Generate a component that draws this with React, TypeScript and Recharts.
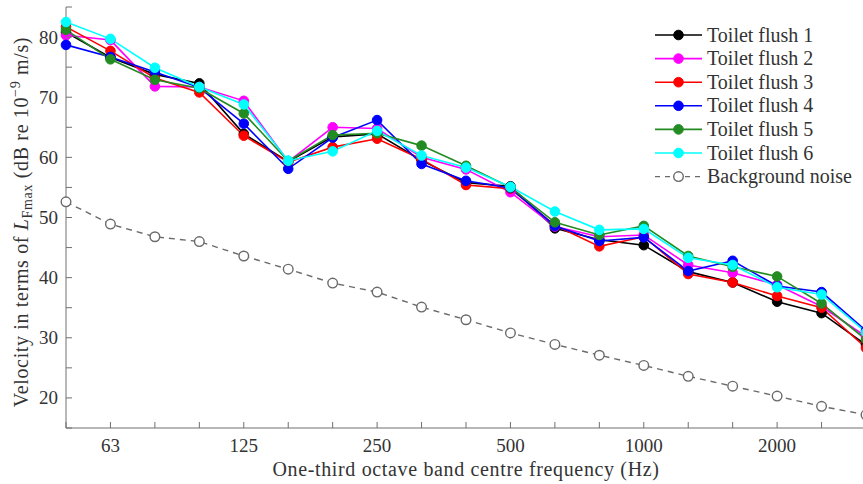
import React from 'react';
import { LineChart, Line, XAxis, YAxis, Legend } from 'recharts';

const freqs = ['50', '63', '80', '100', '125', '160', '200', '250', '315', '400', '500', '630', '800', '1000', '1250', '1600', '2000', '2500', '3150'];
const labelledFreqs = ['63', '125', '250', '500', '1000', '2000'];
const yTicks = [15, 20, 25, 30, 35, 40, 45, 50, 55, 60, 65, 70, 75, 80, 85];
const yLabelled = [20, 30, 40, 50, 60, 70, 80];

const flush1 = [80.8, 76.6, 73.8, 72.3, 63.9, 59.3, 63.4, 63.9, 59.5, 55.8, 55.2, 48.2, 46.3, 45.4, 41.0, 39.2, 36.0, 34.1, 28.8];
const flush2 = [80.3, 79.5, 71.8, 71.7, 69.4, 59.3, 65.0, 64.8, 60.0, 58.0, 54.2, 48.5, 46.8, 47.1, 42.1, 40.8, 38.8, 35.2, 30.2];
const flush3 = [81.7, 77.7, 73.2, 70.8, 63.6, 59.2, 61.7, 63.1, 59.7, 55.4, 54.8, 48.7, 45.2, 46.8, 40.6, 39.2, 36.95, 35.0, 28.3];
const flush4 = [78.7, 76.7, 74.2, 71.6, 65.6, 58.1, 63.3, 66.2, 58.9, 56.1, 54.9, 48.6, 46.1, 46.7, 41.1, 42.8, 38.6, 37.6, 31.2];
const flush5 = [81.2, 76.3, 72.9, 71.5, 67.3, 59.4, 63.7, 64.0, 61.95, 58.6, 55.0, 49.2, 47.1, 48.6, 43.6, 41.8, 40.2, 35.7, 29.7];
const flush6 = [82.5, 79.7, 74.9, 71.7, 68.8, 59.45, 61.0, 64.4, 60.3, 58.3, 55.1, 51.0, 47.95, 48.1, 43.3, 42.1, 38.4, 37.2, 30.9];
const background = [52.6, 48.9, 46.8, 46.0, 43.6, 41.4, 39.1, 37.6, 35.1, 33.0, 30.8, 28.9, 27.1, 25.4, 23.6, 21.95, 20.3, 18.6, 17.2];

const seriesNames = ['Toilet flush 1', 'Toilet flush 2', 'Toilet flush 3', 'Toilet flush 4', 'Toilet flush 5', 'Toilet flush 6'];
const seriesKeys = ['s1', 's2', 's3', 's4', 's5', 's6'];
const seriesColors = ['#000000', '#ff00ff', '#ff0000', '#0000ff', '#228b22', '#00ffff'];
const bgName = 'Background noise';
const bgColor = '#6a6a6a';

const seriesValues = [flush1, flush2, flush3, flush4, flush5, flush6];
const data = freqs.map((f, i) => {
  const row: Record<string, any> = { f, bg: background[i] };
  seriesKeys.forEach((k, j) => { row[k] = seriesValues[j][i]; });
  return row;
});

const AXIS = '#707070';
const TEXT = '#333333';
const FONT = 'Liberation Serif, DejaVu Serif, serif';
const FS = 19;
const txt: React.CSSProperties = { fontFamily: FONT };
const labelTxt: React.CSSProperties = { fontFamily: FONT, letterSpacing: '0.65px' };

const BottomTick = (props: any) => {
  const { x, y, payload } = props;
  const show = labelledFreqs.includes(String(payload.value));
  return (
    <g>
      <line x1={x} x2={x} y1={y} y2={y - 6} stroke={AXIS} strokeWidth={1} />
      {show && (
        <text x={x} y={y + 24} textAnchor="middle" style={txt} fontSize={FS} fill={TEXT}>
          {payload.value}
        </text>
      )}
    </g>
  );
};

const TopTick = (props: any) => {
  const { x, y } = props;
  return <line x1={x} x2={x} y1={y} y2={y + 6} stroke={AXIS} strokeWidth={1} />;
};

const LeftTick = (props: any) => {
  const { x, y, payload } = props;
  const show = yLabelled.includes(Number(payload.value));
  return (
    <g>
      <line x1={x} x2={x + 6} y1={y} y2={y} stroke={AXIS} strokeWidth={1} />
      {show && (
        <text x={x - 8} y={y + 6.5} textAnchor="end" style={txt} fontSize={FS} fill={TEXT}>
          {payload.value}
        </text>
      )}
    </g>
  );
};

const RightTick = (props: any) => {
  const { x, y } = props;
  return <line x1={x} x2={x - 6} y1={y} y2={y} stroke={AXIS} strokeWidth={1} />;
};

const XLabel = () => (
  <text x={466} y={476} textAnchor="middle" style={labelTxt} fontSize={20} fill={TEXT}>
    One-third octave band centre frequency (Hz)
  </text>
);

const YLabel = () => (
  <text transform="translate(28,222) rotate(-90)" textAnchor="middle" style={labelTxt} fontSize={20} fill={TEXT}>
    Velocity in terms of <tspan fontStyle="italic">L</tspan>
    <tspan fontSize={14} dy={4}>Fmax</tspan>
    <tspan dy={-4}> (dB re 10</tspan>
    <tspan fontSize={14} dy={-8}>−9</tspan>
    <tspan dy={8}> m/s)</tspan>
  </text>
);

const LegendContent = () => {
  const rowH = 23.6;
  return (
    <svg width={215} height={175} style={{ display: 'block', overflow: 'visible' }}>
      {seriesNames.map((name, i) => {
        const cy = 15 + i * rowH;
        return (
          <g key={name}>
            <line x1={5} x2={52} y1={cy} y2={cy} stroke={seriesColors[i]} strokeWidth={1.6} />
            <circle cx={28.5} cy={cy} r={4.8} fill={seriesColors[i]} stroke={seriesColors[i]} />
            <text x={57} y={cy + 6.5} style={txt} fontSize={20} fill={TEXT}>{name}</text>
          </g>
        );
      })}
      {(() => {
        const cy = 15 + 6 * rowH;
        return (
          <g>
            <line x1={5} x2={52} y1={cy} y2={cy} stroke={bgColor} strokeWidth={1.4} strokeDasharray="5 5" />
            <circle cx={28.5} cy={cy} r={4.8} fill="#ffffff" stroke={bgColor} strokeWidth={1.4} />
            <text x={57} y={cy + 6.5} style={txt} fontSize={20} fill={TEXT}>{bgName}</text>
          </g>
        );
      })()}
    </svg>
  );
};

export default function App() {
  return (
    <div style={{ position: 'absolute', left: 0, top: 0, width: 863, height: 484, overflow: 'hidden', background: '#ffffff' }}>
      <LineChart width={866} height={484} data={data} margin={{ top: 7, right: 0, bottom: 0, left: 0 }}>
        <XAxis
          dataKey="f"
          type="category"
          interval={0}
          height={56}
          tickSize={0}
          tickMargin={0}
          tickLine={false}
          tick={<BottomTick />}
          axisLine={{ stroke: AXIS, strokeWidth: 1 }}
          label={{ content: () => <XLabel /> }}
        />
        <XAxis
          xAxisId="top"
          dataKey="f"
          type="category"
          orientation="top"
          interval={0}
          height={0}
          tickSize={0}
          tickMargin={0}
          tickLine={false}
          tick={<TopTick />}
          axisLine={{ stroke: AXIS, strokeWidth: 1 }}
        />
        <YAxis
          type="number"
          domain={[15, 85]}
          ticks={yTicks}
          interval={0}
          width={66}
          allowDataOverflow
          tickSize={0}
          tickMargin={0}
          tickLine={false}
          tick={<LeftTick />}
          axisLine={{ stroke: AXIS, strokeWidth: 1 }}
          label={{ content: () => <YLabel /> }}
        />
        <YAxis
          yAxisId="right"
          orientation="right"
          type="number"
          domain={[15, 85]}
          ticks={yTicks}
          interval={0}
          width={0}
          allowDataOverflow
          tickSize={0}
          tickMargin={0}
          tickLine={false}
          tick={<RightTick />}
          axisLine={{ stroke: AXIS, strokeWidth: 1 }}
        />
        <Legend
          layout="vertical"
          align="center"
          verticalAlign="middle"
          content={() => <LegendContent />}
          wrapperStyle={{ left: 650, top: 20, width: 215, height: 175 }}
        />
        {seriesKeys.map((k, i) => (
          <Line
            key={k}
            dataKey={k}
            name={seriesNames[i]}
            stroke={seriesColors[i]}
            strokeWidth={1.6}
            dot={{ r: 4.8, fill: seriesColors[i], stroke: seriesColors[i], strokeWidth: 1 }}
            activeDot={false}
            isAnimationActive={false}
          />
        ))}
        <Line
          dataKey="bg"
          name={bgName}
          stroke={bgColor}
          strokeWidth={1.4}
          strokeDasharray="6 5"
          dot={{ r: 4.8, fill: '#ffffff', stroke: bgColor, strokeWidth: 1.4, strokeDasharray: 'none' }}
          activeDot={false}
          isAnimationActive={false}
        />
      </LineChart>
    </div>
  );
}
